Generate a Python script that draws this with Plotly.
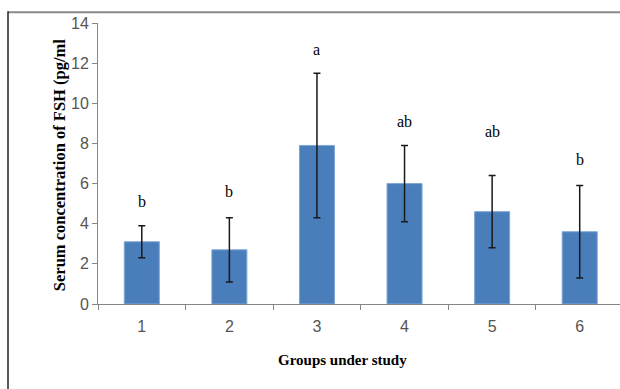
import plotly.graph_objects as go

groups = ["1", "2", "3", "4", "5", "6"]
means = [3.1, 2.7, 7.9, 6.0, 4.6, 3.6]
sds = [0.8, 1.6, 3.6, 1.9, 1.8, 2.3]
letters = ["b", "b", "a", "ab", "ab", "b"]
letter_y = [5.1, 5.6, 12.7, 9.1, 8.6, 7.2]
y_ticks = [0, 2, 4, 6, 8, 10, 12, 14]

W, H = 620, 389
L, R, T, B = 98, 0, 22.7, 85
pw, ph = W - L - R, H - T - B

def px(x):
    return (x - L) / pw

def py(y):
    return (H - B - y) / ph

fig = go.Figure()
fig.add_trace(go.Bar(
    x=groups, y=means, width=0.4,
    marker=dict(color="#4a7ebb", line=dict(color="#7fa6d6", width=1)),
    error_y=dict(type="data", array=sds, visible=True, color="#1a1a1a",
                 thickness=1.5, width=3.5),
    showlegend=False,
))

for i, (t, yv) in enumerate(zip(letters, letter_y)):
    fig.add_annotation(x=i, y=yv, text=t, showarrow=False, xref="x", yref="y",
                       font=dict(family="Liberation Serif", size=16, color="#000000"))

fig.add_annotation(x=px(342), y=py(370), xref="paper", yref="paper",
                   text="<b>Groups under study</b>", showarrow=False,
                   font=dict(family="Liberation Serif", size=15, color="#000000"))
fig.add_annotation(x=px(48), y=py(165.5), xref="paper", yref="paper",
                   text="<b>Serum concentration of FSH (pg/ml</b>", showarrow=False,
                   textangle=-90,
                   font=dict(family="Liberation Serif", size=16.5, color="#000000"))

fig.add_shape(type="line", xref="paper", yref="paper",
              x0=px(8), x1=px(620), y0=py(12), y1=py(12),
              line=dict(color="#8a8a8a", width=2))
fig.add_shape(type="line", xref="paper", yref="paper",
              x0=px(8), x1=px(8), y0=py(11), y1=py(389),
              line=dict(color="#222222", width=1.5))

fig.update_layout(
    width=W, height=H,
    margin=dict(l=L, r=R, t=T, b=B, pad=0),
    paper_bgcolor="white", plot_bgcolor="white",
    bargap=0.6,
    xaxis=dict(type="category", range=[-0.5, 5.46], showline=True, linecolor="#868686",
               linewidth=1, ticks="outside", tickson="boundaries", ticklen=5,
               tickcolor="#868686", showgrid=False, zeroline=False,
               ticklabelstandoff=8,
               tickfont=dict(family="Liberation Sans", size=16, color="#555555")),
    yaxis=dict(range=[0, 14], tickvals=y_ticks, showline=True, linecolor="#868686",
               linewidth=1, ticks="outside", ticklen=5, tickcolor="#868686",
               showgrid=False, zeroline=False,
               tickfont=dict(family="Liberation Sans", size=16, color="#555555")),
)

fig.write_html("out.html")
